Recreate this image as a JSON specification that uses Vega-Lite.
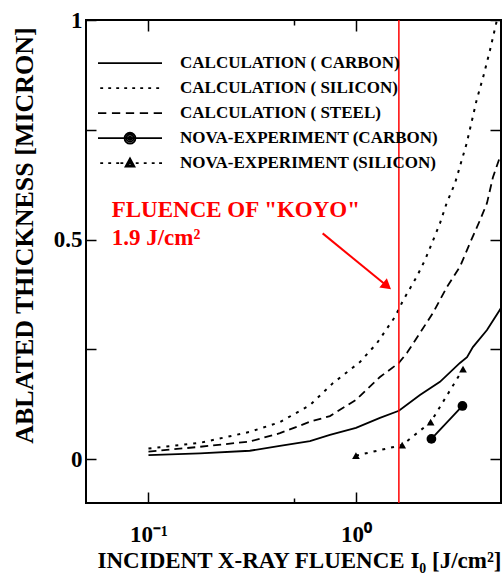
{
  "$schema": "https://vega.github.io/schema/vega-lite/v6.json",
  "width": 415,
  "height": 483,
  "autosize": {"type": "none"},
  "padding": {"left": 86, "top": 20, "right": 2, "bottom": 78},
  "background": "white",
  "config": {
    "view": {"stroke": "black", "strokeWidth": 2},
    "font": "Liberation Serif",
    "axis": {"labelFont": "Liberation Serif", "titleFont": "Liberation Serif", "labelColor": "black", "titleColor": "black", "grid": false, "domain": false, "tickColor": "black", "tickWidth": 1.5}
  },
  "datasets": {
    "curves": [
      {"series": "CALCULATION ( CARBON)", "x": 0.1, "y": 0.009},
      {"series": "CALCULATION ( CARBON)", "x": 0.177, "y": 0.013},
      {"series": "CALCULATION ( CARBON)", "x": 0.308, "y": 0.019},
      {"series": "CALCULATION ( CARBON)", "x": 0.43, "y": 0.030},
      {"series": "CALCULATION ( CARBON)", "x": 0.6, "y": 0.041},
      {"series": "CALCULATION ( CARBON)", "x": 0.749, "y": 0.055},
      {"series": "CALCULATION ( CARBON)", "x": 1.0, "y": 0.071},
      {"series": "CALCULATION ( CARBON)", "x": 1.305, "y": 0.094},
      {"series": "CALCULATION ( CARBON)", "x": 1.61, "y": 0.110},
      {"series": "CALCULATION ( CARBON)", "x": 2.034, "y": 0.146},
      {"series": "CALCULATION ( CARBON)", "x": 2.54, "y": 0.176},
      {"series": "CALCULATION ( CARBON)", "x": 3.17, "y": 0.219},
      {"series": "CALCULATION ( CARBON)", "x": 3.43, "y": 0.232},
      {"series": "CALCULATION ( CARBON)", "x": 3.66, "y": 0.255},
      {"series": "CALCULATION ( CARBON)", "x": 4.28, "y": 0.294},
      {"series": "CALCULATION ( CARBON)", "x": 4.94, "y": 0.340},
      {"series": "CALCULATION ( CARBON)", "x": 5.0, "y": 0.345},
      {"series": "CALCULATION ( SILICON)", "x": 0.1, "y": 0.024},
      {"series": "CALCULATION ( SILICON)", "x": 0.177, "y": 0.037},
      {"series": "CALCULATION ( SILICON)", "x": 0.308, "y": 0.062},
      {"series": "CALCULATION ( SILICON)", "x": 0.43, "y": 0.084},
      {"series": "CALCULATION ( SILICON)", "x": 0.6, "y": 0.123},
      {"series": "CALCULATION ( SILICON)", "x": 0.775, "y": 0.173},
      {"series": "CALCULATION ( SILICON)", "x": 1.045, "y": 0.221},
      {"series": "CALCULATION ( SILICON)", "x": 1.262, "y": 0.264},
      {"series": "CALCULATION ( SILICON)", "x": 1.542, "y": 0.324},
      {"series": "CALCULATION ( SILICON)", "x": 1.69, "y": 0.362},
      {"series": "CALCULATION ( SILICON)", "x": 1.961, "y": 0.415},
      {"series": "CALCULATION ( SILICON)", "x": 2.15, "y": 0.453},
      {"series": "CALCULATION ( SILICON)", "x": 2.358, "y": 0.499},
      {"series": "CALCULATION ( SILICON)", "x": 2.54, "y": 0.537},
      {"series": "CALCULATION ( SILICON)", "x": 2.736, "y": 0.583},
      {"series": "CALCULATION ( SILICON)", "x": 3.0, "y": 0.628},
      {"series": "CALCULATION ( SILICON)", "x": 3.416, "y": 0.719},
      {"series": "CALCULATION ( SILICON)", "x": 3.817, "y": 0.818},
      {"series": "CALCULATION ( SILICON)", "x": 4.107, "y": 0.871},
      {"series": "CALCULATION ( SILICON)", "x": 4.424, "y": 0.931},
      {"series": "CALCULATION ( SILICON)", "x": 4.78, "y": 1.0},
      {"series": "CALCULATION ( STEEL)", "x": 0.1, "y": 0.017},
      {"series": "CALCULATION ( STEEL)", "x": 0.177, "y": 0.028},
      {"series": "CALCULATION ( STEEL)", "x": 0.308, "y": 0.040},
      {"series": "CALCULATION ( STEEL)", "x": 0.43, "y": 0.059},
      {"series": "CALCULATION ( STEEL)", "x": 0.6, "y": 0.085},
      {"series": "CALCULATION ( STEEL)", "x": 0.749, "y": 0.098},
      {"series": "CALCULATION ( STEEL)", "x": 1.0, "y": 0.135},
      {"series": "CALCULATION ( STEEL)", "x": 1.305, "y": 0.187},
      {"series": "CALCULATION ( STEEL)", "x": 1.61, "y": 0.219},
      {"series": "CALCULATION ( STEEL)", "x": 1.762, "y": 0.242},
      {"series": "CALCULATION ( STEEL)", "x": 2.034, "y": 0.287},
      {"series": "CALCULATION ( STEEL)", "x": 2.35, "y": 0.333},
      {"series": "CALCULATION ( STEEL)", "x": 2.745, "y": 0.392},
      {"series": "CALCULATION ( STEEL)", "x": 3.171, "y": 0.438},
      {"series": "CALCULATION ( STEEL)", "x": 3.543, "y": 0.492},
      {"series": "CALCULATION ( STEEL)", "x": 3.96, "y": 0.544},
      {"series": "CALCULATION ( STEEL)", "x": 4.28, "y": 0.583},
      {"series": "CALCULATION ( STEEL)", "x": 4.573, "y": 0.642},
      {"series": "CALCULATION ( STEEL)", "x": 4.94, "y": 0.688},
      {"series": "NOVA-EXPERIMENT (CARBON)", "x": 2.31, "y": 0.046},
      {"series": "NOVA-EXPERIMENT (CARBON)", "x": 3.26, "y": 0.121},
      {"series": "NOVA-EXPERIMENT (SILICON)", "x": 1.0, "y": 0.008},
      {"series": "NOVA-EXPERIMENT (SILICON)", "x": 1.67, "y": 0.032},
      {"series": "NOVA-EXPERIMENT (SILICON)", "x": 2.29, "y": 0.084},
      {"series": "NOVA-EXPERIMENT (SILICON)", "x": 3.28, "y": 0.205}
    ],
    "annot": [
      {"label": "FLUENCE OF \"KOYO\"", "x": 0.0665, "y": 0.552},
      {"label": "1.9 J/cm²", "x": 0.0665, "y": 0.487}
    ],
    "arrow": [
      {"x": 0.691, "y": 0.514, "x2": 1.412, "y2": 0.394}
    ],
    "koyo": [
      {"x": 1.61}
    ]
  },
  "layer": [
    {
      "data": {"name": "curves"},
      "transform": [{"filter": "datum.series == 'CALCULATION ( CARBON)' || datum.series == 'NOVA-EXPERIMENT (CARBON)'"}],
      "mark": {"type": "line", "color": "black", "strokeWidth": 1.8, "clip": true},
      "encoding": {
        "x": {
          "field": "x", "type": "quantitative",
          "scale": {"type": "log", "domain": [0.05, 5], "nice": false},
          "axis": {
            "orient": "bottom", "values": [0.1, 0.5, 1],
            "tickSize": {"condition": {"test": "datum.value == 0.5", "value": -5}, "value": -11},
            "labelExpr": "datum.value == 0.1 ? '10⁻¹' : datum.value == 1 ? '10⁰' : ''",
            "labelFontWeight": "bold", "labelFontSize": 23, "labelBaseline": "alphabetic",
            "labelPadding": 49, "labelFlush": false, "labelOverlap": false,
            "title": "INCIDENT X-RAY FLUENCE  I₀ [J/cm²]",
            "titleFontSize": 23, "titleFontWeight": "bold",
            "titleX": 213, "titleY": 64, "titleBaseline": "alphabetic", "titleAlign": "center"
          }
        },
        "y": {
          "field": "y", "type": "quantitative",
          "scale": {"domain": [-0.1, 1], "nice": false, "zero": false},
          "axis": {
            "orient": "left", "values": [0, 0.25, 0.5, 0.75, 1],
            "tickSize": -10,
            "labelExpr": "datum.value == 0 ? '0' : datum.value == 0.5 ? '0.5' : datum.value == 1 ? '1' : ''",
            "labelFontWeight": "bold", "labelFontSize": 23, "labelBaseline": "middle",
            "labelPadding": 14, "labelFlush": false, "labelOverlap": false,
            "title": "ABLATED THICKNESS [MICRON]",
            "titleFontSize": 26, "titleFontWeight": "bold",
            "titleX": -62, "titleY": 215, "titleAngle": 270, "titleAlign": "center", "titleBaseline": "middle"
          }
        },
        "detail": {"field": "series", "type": "nominal"}
      }
    },
    {
      "data": {"name": "curves"},
      "transform": [{"filter": "datum.series == 'CALCULATION ( SILICON)' || datum.series == 'NOVA-EXPERIMENT (SILICON)'"}],
      "mark": {"type": "line", "color": "black", "strokeWidth": 2, "strokeDash": [3, 6], "clip": true},
      "encoding": {
        "x": {"field": "x", "type": "quantitative", "axis": null},
        "y": {"field": "y", "type": "quantitative", "axis": null},
        "detail": {"field": "series", "type": "nominal"}
      }
    },
    {
      "data": {"name": "curves"},
      "transform": [{"filter": "datum.series == 'CALCULATION ( STEEL)'"}],
      "mark": {"type": "line", "color": "black", "strokeWidth": 1.8, "strokeDash": [8, 5], "clip": true},
      "encoding": {
        "x": {"field": "x", "type": "quantitative", "axis": null},
        "y": {"field": "y", "type": "quantitative", "axis": null}
      }
    },
    {
      "data": {"name": "curves"},
      "transform": [{"filter": "datum.series == 'NOVA-EXPERIMENT (CARBON)'"}],
      "mark": {"type": "point", "shape": "circle", "filled": true, "color": "black", "opacity": 1, "size": 95},
      "encoding": {
        "x": {
          "field": "x", "type": "quantitative",
          "axis": {
            "orient": "top", "values": [0.1, 0.5, 1], "labels": false, "title": null,
            "tickSize": {"condition": {"test": "datum.value == 0.5", "value": -5}, "value": -11}
          }
        },
        "y": {
          "field": "y", "type": "quantitative",
          "axis": {"orient": "right", "values": [0, 0.25, 0.5, 0.75, 1], "labels": false, "title": null, "tickSize": -11}
        }
      }
    },
    {
      "data": {"name": "curves"},
      "transform": [{"filter": "datum.series == 'NOVA-EXPERIMENT (SILICON)'"}],
      "mark": {"type": "point", "shape": "triangle-up", "filled": true, "color": "black", "opacity": 1, "size": 60},
      "encoding": {
        "x": {"field": "x", "type": "quantitative", "axis": null},
        "y": {"field": "y", "type": "quantitative", "axis": null}
      }
    },
    {
      "data": {"name": "curves"},
      "mark": {"type": "point", "filled": false, "color": "black", "opacity": 0, "size": 4096, "strokeWidth": 1.8},
      "encoding": {
        "x": {"field": "x", "type": "quantitative", "axis": null},
        "y": {"field": "y", "type": "quantitative", "axis": null},
        "shape": {
          "field": "series", "type": "nominal",
          "scale": {
            "domain": ["CALCULATION ( CARBON)", "CALCULATION ( SILICON)", "CALCULATION ( STEEL)", "NOVA-EXPERIMENT (CARBON)", "NOVA-EXPERIMENT (SILICON)"],
            "range": [
              "M-1,0H1",
              "M-0.93,0h0.09M-0.68,0h0.09M-0.43,0h0.09M-0.18,0h0.09M0.07,0h0.09M0.32,0h0.09M0.57,0h0.09M0.82,0h0.09",
              "M-1,0h0.26M-0.565,0h0.26M-0.13,0h0.26M0.305,0h0.26M0.74,0h0.26",
              "M-1,0H1M0.17,0A0.17,0.17,0,1,1,-0.17,0A0.17,0.17,0,1,1,0.17,0ZM0.11,0A0.11,0.11,0,1,1,-0.11,0A0.11,0.11,0,1,1,0.11,0ZM0.05,0A0.05,0.05,0,1,1,-0.05,0A0.05,0.05,0,1,1,0.05,0Z",
              "M-0.93,0h0.09M-0.68,0h0.09M-0.43,0h0.09M-0.3,0h0.09M0.18,0h0.09M0.43,0h0.09M0.68,0h0.09M0.91,0h0.09M-0.14,0.11L0.14,0.11L0,-0.15ZM-0.07,0.067L0.07,0.067L0,-0.064Z"
            ]
          },
          "legend": {
            "orient": "none", "legendX": 11, "legendY": 31, "title": null,
            "padding": 0, "rowPadding": 0, "clipHeight": 24.4,
            "symbolSize": 4096, "symbolFillColor": "transparent", "symbolStrokeColor": "black",
            "symbolStrokeWidth": 1.8, "symbolOpacity": 1,
            "labelFont": "Liberation Serif", "labelFontWeight": "bold", "labelFontSize": 17,
            "labelColor": "black", "labelOffset": 17, "labelLimit": 0, "labelBaseline": "middle"
          }
        }
      }
    },
    {
      "data": {"name": "koyo"},
      "mark": {"type": "rule", "color": "#ff0000", "strokeWidth": 1.5},
      "encoding": {
        "x": {"field": "x", "type": "quantitative", "axis": null}
      }
    },
    {
      "data": {"name": "arrow"},
      "mark": {"type": "rule", "color": "#ff0000", "strokeWidth": 2},
      "encoding": {
        "x": {"field": "x", "type": "quantitative", "axis": null},
        "y": {"field": "y", "type": "quantitative", "axis": null},
        "x2": {"field": "x2"},
        "y2": {"field": "y2"}
      }
    },
    {
      "data": {"name": "arrow"},
      "mark": {"type": "point", "shape": "triangle-right", "angle": 39.4, "filled": true, "color": "#ff0000", "opacity": 1, "size": 140},
      "encoding": {
        "x": {"field": "x2", "type": "quantitative", "axis": null},
        "y": {"field": "y2", "type": "quantitative", "axis": null}
      }
    },
    {
      "data": {"name": "annot"},
      "mark": {"type": "text", "align": "left", "baseline": "alphabetic", "font": "Liberation Serif", "fontWeight": "bold", "fontSize": 23, "color": "#ff0000"},
      "encoding": {
        "x": {"field": "x", "type": "quantitative", "axis": null},
        "y": {"field": "y", "type": "quantitative", "axis": null},
        "text": {"field": "label"}
      }
    }
  ],
  "resolve": {"axis": {"x": "independent", "y": "independent"}}
}
